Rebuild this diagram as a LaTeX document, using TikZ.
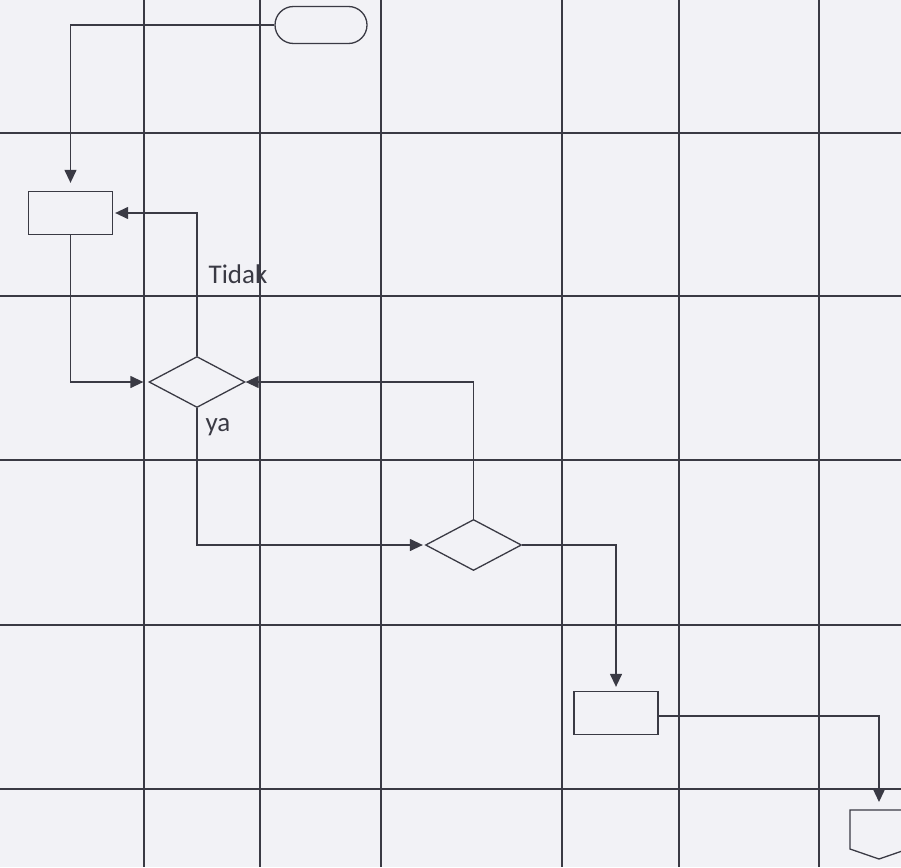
\documentclass[tikz,border=0pt]{standalone}
\usepackage{fontspec}
\setmainfont{Carlito}
\usetikzlibrary{arrows.meta,shapes.geometric,shapes.misc}
\definecolor{ink}{RGB}{58,58,68}
\definecolor{paper}{RGB}{242,242,246}
\begin{document}
\begin{tikzpicture}[x=1pt,y=-1pt,
  gridline/.style={draw=ink,line width=1.4pt},
  shp/.style={draw=ink,line width=1.3pt,inner sep=0pt},
  proc/.style={shp,rectangle,minimum width=84pt,minimum height=43pt},
  dec/.style={shp,diamond,minimum width=96pt,minimum height=51pt},
  term/.style={shp,rounded rectangle,minimum width=92pt,minimum height=37pt},
  flow/.style={draw=ink,line width=1.3pt,-{Triangle[length=13pt,width=12pt]}},
  lbl/.style={text=ink,font=\fontsize{27}{32}\selectfont}]
\useasboundingbox (0,0) rectangle (901,867);
\fill[paper] (0,0) rectangle (901,867);
\begin{scope}
\clip (0,0) rectangle (901,867);
% grid
\foreach \gx in {144,260,381,562,679,819}
  \draw[gridline] (\gx,0) -- (\gx,867);
\foreach \gy in {133,296,460,625,789}
  \draw[gridline] (0,\gy) -- (901,\gy);
% shapes
\node[term] (t) at (321,25) {};
\node[proc,fill=paper] (r1) at (70.5,213) {};
\node[dec,fill=paper] (d1) at (197,382) {};
\node[dec,fill=paper] (d2) at (473.5,545) {};
\node[proc,fill=paper] (r2) at (616,713) {};
\draw[shp,fill=paper] (850,810) -- (908,810) -- (908,849) -- (879,859) -- (850,849) -- cycle;
\coordinate (off) at (879,810);
% connectors
\draw[flow,shorten >=8pt] (t.west) -| (r1.north);
\draw[flow,shorten >=2pt] (d1.north) |- (r1.east);
\draw[flow,shorten >=5pt] (r1.south) |- (d1.west);
\draw[flow] (d2.north) |- (d1.east);
\draw[flow,shorten >=2pt] (d1.south) |- (d2.west);
\draw[flow,shorten >=4pt] (d2.east) -| (r2.north);
\draw[flow,shorten >=8pt] ([yshift=-3pt]r2.east) -| (off);
% labels
\node[lbl] (ltidak) at (238,274) {Tidak};
\node[lbl] (lya) at (218,427) {ya};
\end{scope}
\end{tikzpicture}
\end{document}
